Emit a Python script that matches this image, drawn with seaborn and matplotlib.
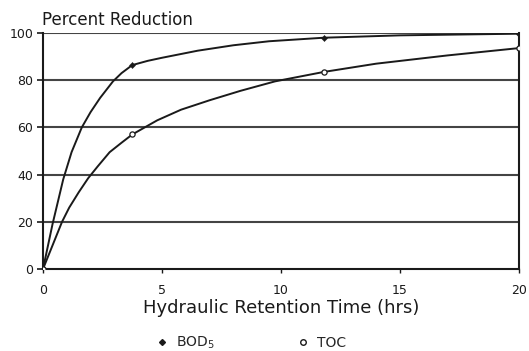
import matplotlib
matplotlib.use("Agg")
import pandas as pd
import seaborn as sns
import matplotlib.pyplot as plt
from matplotlib.lines import Line2D

# measured points (hrs, % reduction)
obs_time = [0, 3.75, 11.8, 20]
obs_bod = [0, 86.4, 98.0, 99.7]
obs_toc = [0, 57.0, 83.5, 93.6]

# fitted curves
bod_curve_t = [0, 0.4, 0.85, 1.2, 1.63, 2.0, 2.4, 2.94, 3.3, 3.75, 4.4, 5, 6.5, 8, 9.5, 11.8, 15, 20]
bod_curve_y = [0, 19, 38, 49.5, 60, 66.5, 72.5, 79.5, 83, 86.4, 88.2, 89.5, 92.5, 94.8, 96.5, 98.0, 99.0, 99.7]
toc_curve_t = [0, 0.4, 0.8, 1.1, 1.5, 1.9, 2.3, 2.8, 3.3, 3.75, 4.8, 5.8, 7, 8.3, 9.75, 11.8, 14, 17, 20]
toc_curve_y = [0, 10, 20, 26, 32.5, 38.5, 43.5, 49.5, 53.5, 57.0, 63, 67.5, 71.5, 75.5, 79.5, 83.5, 87, 90.5, 93.6]

curves = pd.concat([
    pd.DataFrame({"t": bod_curve_t, "pct": bod_curve_y, "param": "BOD"}),
    pd.DataFrame({"t": toc_curve_t, "pct": toc_curve_y, "param": "TOC"}),
])
obs = pd.DataFrame({"t": obs_time, "BOD": obs_bod, "TOC": obs_toc})

sns.set_style("white")
plt.rcParams["font.family"] = ["DejaVu Sans"]

ink = "#1a1a1a"
fig = plt.figure(figsize=(5.29, 3.51), dpi=100)
ax = fig.add_axes([0.0813, 0.2336, 0.8997, 0.6724])

sns.lineplot(data=curves, x="t", y="pct", units="param", estimator=None,
             color=ink, lw=1.4, ax=ax, legend=False)
sns.scatterplot(data=obs, x="t", y="BOD", marker="D", s=10, color=ink,
                edgecolor=ink, ax=ax, zorder=4)
sns.scatterplot(data=obs, x="t", y="TOC", marker="o", s=14, facecolor="white",
                edgecolor=ink, linewidth=0.9, ax=ax, zorder=4)

ax.set_xlim(0, 20)
ax.set_ylim(0, 100)
ax.set_xticks([0, 5, 10, 15, 20])
ax.set_yticks([0, 20, 40, 60, 80, 100])
for yv in [20, 40, 60, 80, 100]:
    ax.axhline(yv, color="#444444", lw=1.5, zorder=1)

for side in ["left", "bottom", "right"]:
    ax.spines[side].set_color(ink)
    ax.spines[side].set_linewidth(1.5)
ax.spines["top"].set_visible(False)

ax.tick_params(axis="y", direction="out", length=4, width=1.2, pad=3,
               labelsize=9, colors=ink, left=True)
ax.tick_params(axis="x", direction="out", length=3, width=1.0, pad=8,
               labelsize=9, colors=ink, bottom=True)

ax.set_title("Percent Reduction", loc="left", fontsize=12, pad=6, color=ink, x=-0.002)
ax.set_xlabel("Hydraulic Retention Time (hrs)", fontsize=13, labelpad=1, color=ink)
ax.set_ylabel("")

handles = [
    Line2D([], [], ls="none", marker="D", markersize=3, color=ink),
    Line2D([], [], ls="none", marker="o", markersize=4, markerfacecolor="white",
           markeredgecolor=ink),
]
fig.legend(handles, ["BOD$_5$", "TOC"], loc="center", ncol=2, frameon=False,
           bbox_to_anchor=(0.475, 0.022), fontsize=10, handlelength=0.8,
           handletextpad=0.6, columnspacing=6.0)

fig.savefig("out.png", dpi=100)
